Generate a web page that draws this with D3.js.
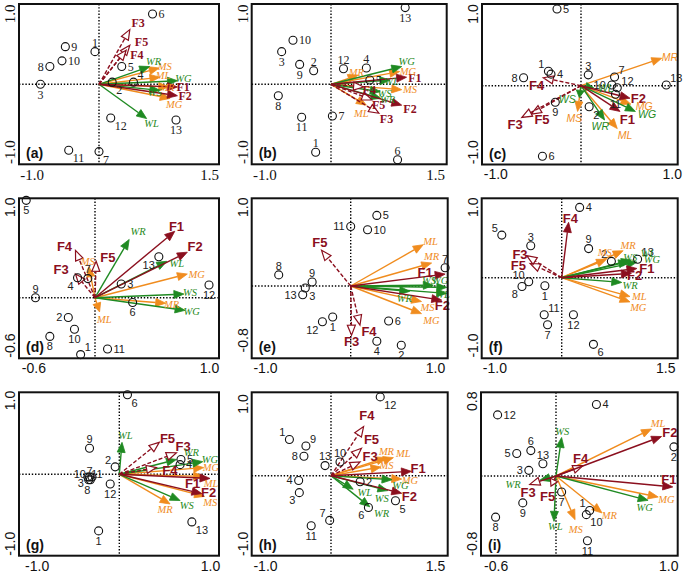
<!DOCTYPE html>
<html><head><meta charset="utf-8">
<script src="https://cdn.jsdelivr.net/npm/d3@7"></script>
<style>body{margin:0;background:#fff}svg{display:block}</style>
</head><body>
<svg id="chart" width="685" height="578"></svg>
<script>
// ---------------- DATA ----------------
const panelIds = ["a","b","c","d","e","f","g","h","i"];
const siteIds = [1,2,3,4,5,6,7,8,9,10,11,12,13];
const varNames = ["F1","F2","F3","F4","F5","ML","MR","MS","MG","WL","WR","WS","WG"];
const xTicks = [[-1.0,1.5],[-1.0,1.5],[-1.0,1.0],[-0.6,1.0],[-1.0,1.0],[-1.0,1.5],[-1.0,1.0],[-1.0,1.5],[-0.6,1.0]];
const yTicks = [[-1.0,1.0],[-1.0,1.0],[-1.0,1.0],[-0.6,1.0],[-0.8,1.0],[-1.0,1.0],[-1.0,1.0],[-1.0,1.0],[-0.8,0.8]];

// site scores (order = siteIds)
const sitesA = [[-0.06,0.46],[0.18,0.03],[-0.87,0],[0.47,0.03],[0.31,0.25],[0.73,0.99],[0,-1.00],[-0.73,0.25],[-0.50,0.53],[-0.55,0.33],[-0.45,-0.98],[0.16,-0.50],[1.05,-0.53]];
const sitesB = [[-0.23,-1.01],[-0.26,0.19],[-0.74,0.46],[0.51,0.23],[0.56,0.06],[0.96,-1.12],[0.02,-0.47],[-0.79,-0.17],[-0.47,0.28],[-0.57,0.62],[-0.44,-0.49],[0.18,0.22],[1.07,1.08]];
const sitesC = [[-0.38,0.20],[0.09,-0.32],[0.08,0.15],[-0.35,0.16],[-0.28,1.06],[-0.45,-1.07],[0.37,0.12],[-0.67,0.11],[-0.30,-0.25],[0.34,0.01],[0.38,-0.13],[0.40,-0.03],[0.94,0.01]];
const sitesD = [[-0.14,-0.72],[-0.26,-0.25],[0.23,0.15],[-0.17,0.22],[-0.67,1.07],[0.33,-0.06],[-0.07,0.21],[-0.44,-0.49],[-0.58,0],[-0.20,-0.40],[0.11,-0.65],[1.0,0.14],[0.56,0.45]];
const sitesE = [[-0.21,-0.46],[0.60,-0.88],[-0.53,-0.03],[0.31,-0.82],[0.31,0.89],[0.45,-0.52],[1.12,0.23],[-0.84,0.14],[-0.45,0.05],[0.20,0.71],[0,0.75],[-0.33,-0.53],[-0.56,-0.13]];
const sitesF = [[-0.25,-0.12],[0.72,0.23],[-0.46,0.45],[0.26,0.99],[-0.89,0.60],[0.46,-0.99],[-0.21,-0.70],[-0.59,-0.13],[0.39,0.41],[-0.49,-0.06],[-0.26,-0.55],[0.17,-0.55],[1.10,0.26]];
const sitesG = [[-0.25,-0.82],[-0.05,0.10],[-0.37,-0.08],[0.67,0.13],[0.68,0.20],[0.09,1.07],[-0.36,-0.04],[-0.35,-0.08],[-0.36,0.35],[-0.38,-0.04],[-0.33,-0.04],[-0.11,-0.14],[0.80,-0.69]];
const sitesH = [[-0.63,0.50],[0.42,-0.09],[-0.48,-0.25],[-0.49,-0.07],[0.93,-0.37],[0.54,-0.47],[-0.02,-0.66],[-0.41,0.27],[-0.38,0.41],[0.13,0.19],[-0.30,-0.74],[0.71,1.09],[-0.09,0.14]];
const sitesI = [[0.30,-0.41],[1.05,0.31],[-0.27,0.06],[0.36,0.76],[-0.39,0.24],[-0.25,0.27],[0.05,-0.19],[-0.60,-0.49],[-0.33,-0.32],[0.27,-0.46],[0.28,-0.77],[-0.58,0.65],[-0.13,0.13]];

// variable vectors (order = varNames)
const vecsA = [[1.07,-0.04],[1.07,-0.17],[0.42,0.77],[0.37,0.48],[0.42,0.55],[0.83,0.10],[0.95,-0.04],[0.82,0.23],[0.97,-0.21],[0.65,-0.51],[0.69,0.25],[0.83,-0.09],[1.07,0.05]];
const vecsB = [[1.09,0.10],[1.02,-0.31],[0.69,-0.43],[0.47,-0.04],[0.59,-0.23],[0.51,-0.31],[0.39,0.13],[1.02,-0.08],[0.99,0.18],[0.85,0.06],[0.72,-0.21],[0.71,-0.11],[1.02,0.25]];
const vecsC = [[0.43,-0.39],[0.54,-0.19],[-0.69,-0.48],[-0.44,0.11],[-0.58,-0.43],[0.40,-0.65],[0.89,0.38],[-0.04,-0.39],[0.55,-0.28],[0.14,-0.03],[0.26,-0.52],[-0.02,-0.18],[0.60,-0.39]];
const vecsD = [[0.70,0.73],[0.81,0.50],[-0.19,0.26],[-0.19,0.52],[0.01,0.40],[0.04,-0.18],[0.62,-0.07],[-0.06,0.34],[0.81,0.26],[0.63,0.40],[0.30,0.64],[0.78,0.04],[0.79,-0.16]];
const vecsE = [[1.12,0.15],[1.08,-0.21],[0.01,-0.73],[0.11,-0.58],[-0.34,0.45],[0.86,0.52],[0.96,0.29],[0.84,-0.23],[0.84,-0.41],[1.14,-0.11],[0.70,-0.08],[0.98,0.01],[1.14,-0.02]];
const vecsF = [[1.09,0.13],[1.01,0.06],[-0.52,0.31],[0.10,0.78],[-0.47,0.20],[0.99,-0.28],[0.89,0.38],[0.65,0.26],[0.99,-0.36],[1.01,0.25],[0.87,-0.07],[0.97,0.23],[1.09,0.22]];
const vecsG = [[1.0,-0.06],[0.91,-0.28],[0.63,0.29],[0.41,0.09],[0.44,0.43],[0.93,-0.03],[0.56,-0.43],[0.94,-0.32],[0.93,0.09],[0.03,0.43],[0.63,0.20],[0.67,-0.38],[0.92,0.17]];
const vecsH = [[1.16,0.06],[1.02,-0.26],[0.42,0.19],[0.47,0.68],[0.44,0.38],[0.90,0.25],[0.80,0.25],[0.72,0.12],[1.02,-0.05],[0.32,-0.20],[0.56,-0.46],[0.82,-0.22],[0.88,-0.06]];
const vecsI = [[1.04,-0.13],[0.94,0.42],[-0.26,-0.10],[0.24,0.11],[-0.05,-0.12],[0.85,0.50],[0.41,-0.44],[0.17,-0.52],[0.91,-0.25],[-0.02,-0.54],[-0.16,-0.05],[0.05,0.41],[0.82,-0.29]];

const allSites = [sitesA,sitesB,sitesC,sitesD,sitesE,sitesF,sitesG,sitesH,sitesI];
const allVecs = [vecsA,vecsB,vecsC,vecsD,vecsE,vecsF,vecsG,vecsH,vecsI];

// ---------------- LAYOUT / STYLE ----------------
const boxes = [[19,4,219,164.3],[251.7,4,446.7,164.3],[482,4,677.7,164.5],
               [19,198.3,219,358.3],[251.7,198.3,447.7,358.3],[481.7,198.3,677.7,358.3],
               [19,392.3,219,555.7],[251.7,392.3,447.7,555.7],[481,392.3,677.7,555.7]];
const xRanges = [[31.7,99,209],[264.3,331,435],[495.3,581,671.7],[33.4,95,209],[265,350.7,435],[494.4,561.7,665.2],[36.6,119.3,210],[265,331,435],[495.6,556,668.3]];
const yRanges = [[151.6,84.3,13.3],[151.6,84.3,13.3],[151.7,85.7,13.4],[345.1,297.7,206.7],[339.9,286,206.7],[345,277.7,206.7],[543.3,474.3,400],[543.4,475.7,403.4],[543.2,476,400.8]];
const serifPanel = [true,true,false,false,false,false,false,false,false];
const italicSansPanel = [false,false,true,false,false,false,false,false,false];

const siteLabelPos = [
 ["t","br","b","tr","r","r","br","l","r","r","br","br","b"],
 ["t","t","b","t","r","t","r","b","b","r","b","t","b"],
 ["tl","br","t","r","r","r","tr","l","b","l","b","tr","tr"],
 ["tr","l","r","bl","b","b","t","b","t","b","r","b","bl"],
 ["b","b","br","b","r","r","t","t","t","r","l","bl","l"],
 ["b","tl","t","r","tl","br","b","bl","t","tl","tr","b","tr"],
 ["b","tl",[-8,3],"r","r","br",[0,-6],[-3,10],"t",[-8,-3],[5,-3],"b","br"],
 ["tl","r","bl","l","br","bl","tl","l","tr","t","b","br","t"],
 ["tl","b","l","r","l","t","b","b","b","br","b","r","t"]
];
// label centre offsets (px) from arrow tips, order = varNames
const vecLabelOff = [
 [[5.7,0],[7.7,0],[8.3,-6.7],[10.7,4.3],[11.7,-3.3],[3.3,-2],[-1.7,0],[5.7,-1.7],[4,5.7],[5,5],[4,-5],[-5,2],[6,-2]],
 [[8.3,1],[8.3,3.3],[7.7,5.7],[5.7,2.7],[6.7,5],[-5,8.3],[-1.7,-2.3],[8.3,0],[8.3,0],[1.7,1],[6.7,1],[4.3,1.7],[5,-5.7]],
 [[7.3,7.7],[8.3,0.7],[-6.7,7.3],[-6.7,7.3],[10.7,5.3],[7.7,6.7],[8.3,-1],[-3.3,6.7],[13.3,2],[12.3,1],[-4.3,6],[-12,1.7],[11.7,3.3]],
 [[1.7,-5.3],[7.7,-5.7],[-14.3,-4.3],[-11,-4],[11.7,-3.7],[4.7,7.7],[6,1],[-1,-5.7],[9.3,0],[10,2.3],[9,-8],[6,-1.7],[6.7,1]],
 [[-20,-2],[0.7,5.7],[0,6.7],[9,6.7],[-1.7,-7.7],[7.3,-3.3],[0,-6.7],[6,6],[10,6.7],[-4.3,1],[-5.3,6.7],[-4.3,-5],[-6.7,-7]],
 [[10,0],[3.3,2],[-6.7,-1.7],[1.7,-4],[-11.7,1.7],[9.3,0],[5,-5],[-1.7,-7.3],[8.3,5],[16.7,-6.7],[8.3,3.3],[1.7,-4.3],[15,-2.3]],
 [[-17.3,5],[6.7,-0.7],[6.7,-6],[13.3,2.7],[8.3,-4.3],[7.3,7.3],[-5,5],[5.7,6],[7.3,0],[3.3,-6.7],[15,-6.7],[6.7,5],[7.3,-2.3]],
 [[6.7,-2.7],[7.7,3.3],[10,-5.7],[3.3,-10.7],[10,-8.3],[10,-4.7],[0,-6.7],[5.7,-1.3],[8.3,1],[11.7,3.3],[11.7,6.7],[-6,7.7],[8.3,6]],
 [[-4,-7.3],[8.3,-4],[-1.7,8.3],[-2.3,-7.7],[-3.3,10.7],[6.7,-6],[7.3,2.7],[0.7,10],[8.3,2.7],[1.3,5],[-26.7,4],[0.7,-5.7],[-3.3,6.7]]
];

const RED = "#8b0f1e", ORANGE = "#f08c1e", GREEN = "#1f8a22";
const SERIF = "'Liberation Serif','Times New Roman',serif";
const SANS = "'Liberation Sans',Arial,Helvetica,sans-serif";
const colorOf = n => n[0] === "F" ? RED : (n[0] === "M" ? ORANGE : GREEN);
const drawOrder = ["ML","MR","MS","MG","WL","WR","WS","WG","F5","F4","F3","F2","F1"];
function fStyle(pid, name) {
  if (name === "F1" || name === "F2") return {dash: false, open: false};
  if (pid === "f" && name === "F4") return {dash: false, open: false};
  if (pid === "i") return {dash: false, open: true};
  return {dash: true, open: true};
}
const fmt = d => d.toFixed(1);
const labelCodes = {
  r: [6, 0, "start"], l: [-6, 0, "end"], t: [0, -9, "middle"], b: [0, 10, "middle"],
  tr: [4, -7, "start"], tl: [-4, -7, "end"], br: [4, 8, "start"], bl: [-4, 8, "end"]
};

// ---------------- DRAW ----------------
const svg = d3.select("#chart");

panelIds.forEach((pid, i) => {
  const [bx0, by0, bx1, by1] = boxes[i];
  const serif = serifPanel[i];
  const fam = serif ? SERIF : SANS;
  const x = d3.scaleLinear().domain([xTicks[i][0], 0, xTicks[i][1]]).range(xRanges[i]);
  const y = d3.scaleLinear().domain([yTicks[i][0], 0, yTicks[i][1]]).range(yRanges[i]);
  const g = svg.append("g").attr("class", "panel-" + pid);

  // crosshair
  g.append("line").attr("x1", x(0)).attr("x2", x(0)).attr("y1", by0).attr("y2", by1)
    .attr("stroke", "#000").attr("stroke-width", 1.4).attr("stroke-dasharray", "1.4,1.8");
  g.append("line").attr("x1", bx0).attr("x2", bx1).attr("y1", y(0)).attr("y2", y(0))
    .attr("stroke", "#000").attr("stroke-width", 1.4).attr("stroke-dasharray", "1.4,1.8");

  // axes
  const tickSize = serif ? 15 : 14;
  const gx = g.append("g").attr("transform", `translate(0,${by1})`)
    .call(d3.axisBottom(x).tickValues(xTicks[i]).tickSize(0).tickPadding(5).tickFormat(fmt));
  gx.select(".domain").remove();
  gx.selectAll("text").attr("font-family", fam).attr("font-size", tickSize).attr("fill", "#111");
  const gy = g.append("g").attr("transform", `translate(${bx0},0)`)
    .call(d3.axisLeft(y).tickValues(yTicks[i]).tickSize(0).tickFormat(fmt));
  gy.select(".domain").remove();
  gy.selectAll("text").attr("transform", "rotate(-90)").attr("x", 0).attr("y", -4)
    .attr("dy", "0").attr("text-anchor", "middle")
    .attr("font-family", fam).attr("font-size", tickSize).attr("fill", "#111");

  // arrows
  const vecs = allVecs[i];
  const ox = x(0), oy = y(0);
  const H = 10, W = 4;
  drawOrder.forEach(name => {
    const k = varNames.indexOf(name);
    const v = vecs[k];
    const tx = x(v[0]), ty = y(v[1]);
    const dx = tx - ox, dy = ty - oy, len = Math.hypot(dx, dy);
    const ux = dx / len, uy = dy / len;
    const col = colorOf(name);
    const st = name[0] === "F" ? fStyle(pid, name) : {dash: false, open: false};
    const hl = Math.min(H, len * 0.6);
    const bx = tx - ux * hl, by = ty - uy * hl;
    g.append("line").attr("x1", ox).attr("y1", oy).attr("x2", bx).attr("y2", by)
      .attr("stroke", col).attr("stroke-width", 1.4)
      .attr("stroke-dasharray", st.dash ? "4,2" : null);
    const pts = [[tx, ty], [bx - uy * W, by + ux * W], [bx + uy * W, by - ux * W]];
    g.append("polygon").attr("points", pts.map(p => p.join(",")).join(" "))
      .attr("fill", st.open ? "#fff" : col).attr("stroke", col).attr("stroke-width", st.open ? 1.2 : 0.8)
      .attr("stroke-linejoin", "miter");
  });

  // sites
  const sites = allSites[i];
  sites.forEach((s, k) => {
    g.append("circle").attr("cx", x(s[0])).attr("cy", y(s[1])).attr("r", 4)
      .attr("fill", "none").attr("stroke", "#111").attr("stroke-width", 1.1);
  });
  sites.forEach((s, k) => {
    const code = siteLabelPos[i][k];
    let ddx, ddy, anchor;
    if (Array.isArray(code)) { [ddx, ddy] = code; anchor = "middle"; }
    else { [ddx, ddy, anchor] = labelCodes[code]; }
    g.append("text").attr("x", x(s[0]) + ddx).attr("y", y(s[1]) + ddy).attr("dy", "0.35em")
      .attr("text-anchor", anchor).attr("font-family", fam).attr("font-size", serif ? 12 : 11)
      .attr("fill", "#222").text(siteIds[k]);
  });

  // arrow labels
  varNames.forEach((name, k) => {
    const v = vecs[k];
    const off = vecLabelOff[i][k];
    const isF = name[0] === "F";
    const t = g.append("text").attr("x", x(v[0]) + off[0]).attr("y", y(v[1]) + off[1])
      .attr("dy", "0.35em").attr("text-anchor", "middle").attr("fill", colorOf(name)).text(name);
    if (isF) {
      t.attr("font-family", fam).attr("font-weight", "bold").attr("font-size", serif ? 12 : 13);
    } else {
      t.attr("font-family", italicSansPanel[i] ? SANS : SERIF).attr("font-style", "italic")
        .attr("font-size", italicSansPanel[i] ? 10.5 : 10.5);
    }
  });

  // frame
  g.append("rect").attr("x", bx0).attr("y", by0).attr("width", bx1 - bx0).attr("height", by1 - by0)
    .attr("fill", "none").attr("stroke", "#111").attr("stroke-width", 2);

  // panel letter
  g.append("text").attr("x", bx0 + 7).attr("y", by1 - 6).attr("font-family", SANS)
    .attr("font-weight", "bold").attr("font-size", 14).attr("fill", "#111").text("(" + pid + ")");
});
</script>
</body></html>
